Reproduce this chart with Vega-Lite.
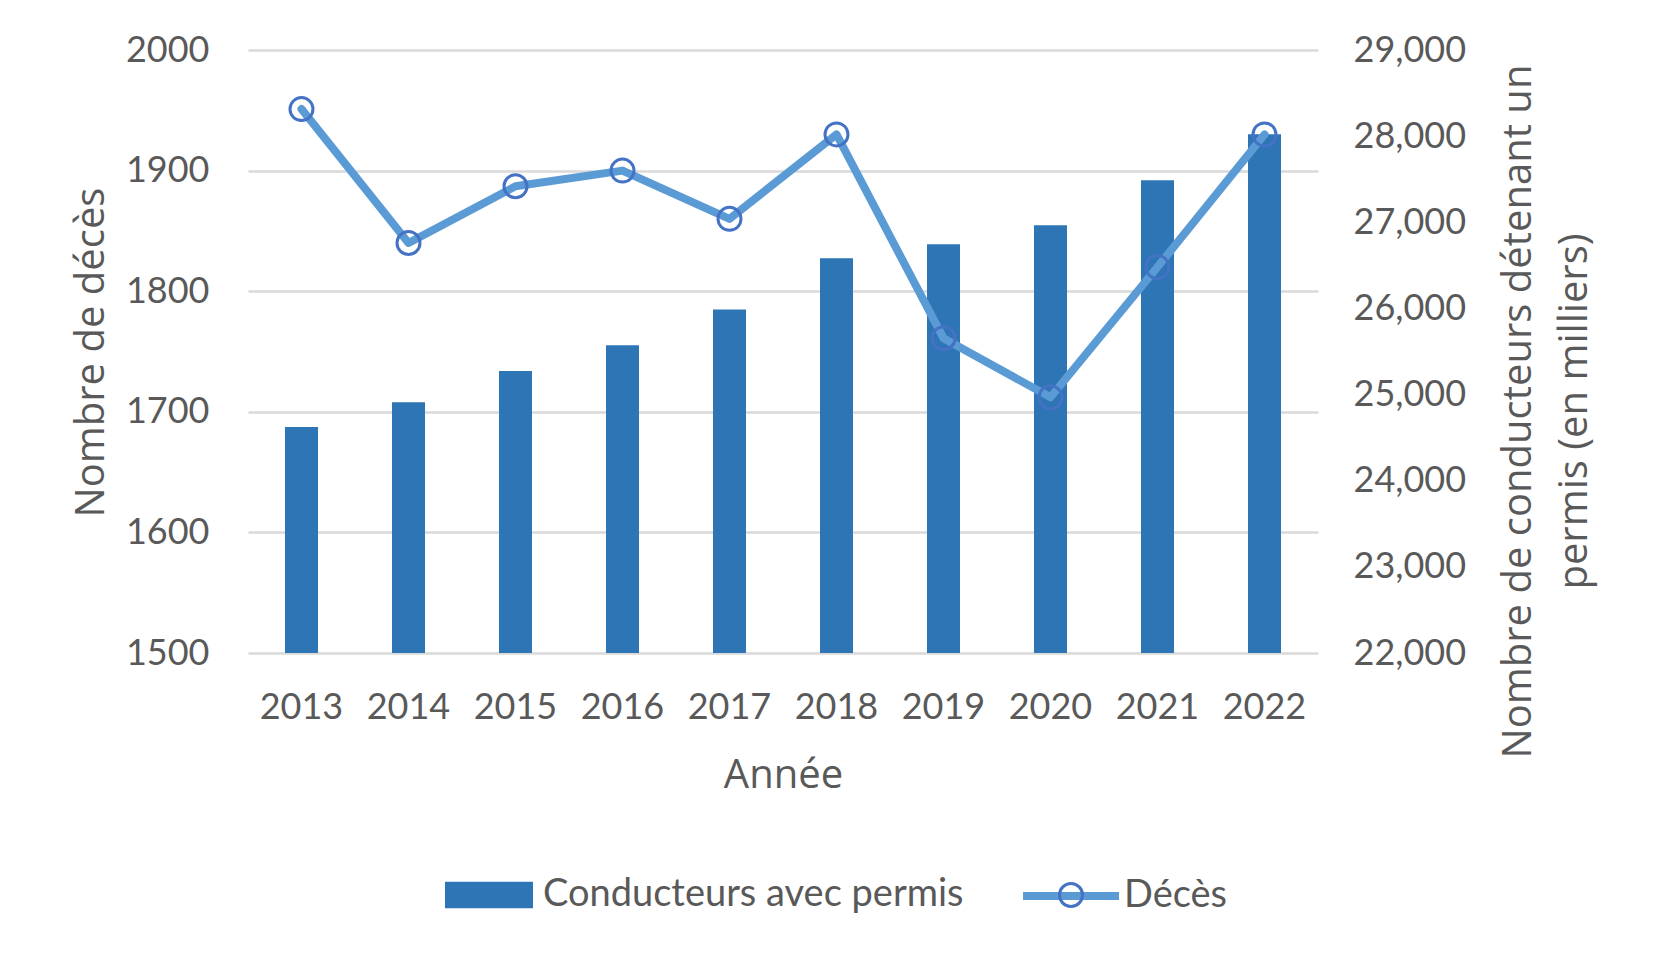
{
  "$schema": "https://vega.github.io/schema/vega-lite/v6.json",
  "autosize": "none",
  "width": 1070,
  "height": 603,
  "padding": {"left": 248, "top": 50, "right": 336, "bottom": 308},
  "background": "white",
  "data": {
    "values": [
      {"annee": "2013", "conducteurs": 24624, "deces": 1951},
      {"annee": "2014", "conducteurs": 24911, "deces": 1840},
      {"annee": "2015", "conducteurs": 25274, "deces": 1887},
      {"annee": "2016", "conducteurs": 25572, "deces": 1900},
      {"annee": "2017", "conducteurs": 25987, "deces": 1860},
      {"annee": "2018", "conducteurs": 26583, "deces": 1930},
      {"annee": "2019", "conducteurs": 26745, "deces": 1761},
      {"annee": "2020", "conducteurs": 26966, "deces": 1712},
      {"annee": "2021", "conducteurs": 27488, "deces": 1820},
      {"annee": "2022", "conducteurs": 28022, "deces": 1930}
    ]
  },
  "encoding": {
    "x": {
      "field": "annee",
      "type": "ordinal",
      "title": "Année",
      "scale": {"paddingInner": 0, "paddingOuter": 0},
      "axis": {
        "labelAngle": 0,
        "domain": false,
        "ticks": false,
        "labelFont": "Lato",
        "labelFontSize": 36,
        "labelColor": "#595959",
        "labelBaseline": "alphabetic",
        "labelPadding": 65,
        "titleFont": "Open Sans",
        "titleFontSize": 40,
        "titleFontWeight": "normal",
        "titleColor": "#595959",
        "titleBaseline": "alphabetic",
        "titleY": 134
      }
    }
  },
  "layer": [
    {
      "mark": {"type": "bar", "size": 33},
      "encoding": {
        "y": {
          "field": "conducteurs",
          "type": "quantitative",
          "title": ["Nombre de conducteurs détenant un", "permis (en milliers)"],
          "scale": {"domain": [22000, 29000], "nice": false, "zero": false},
          "axis": {
            "orient": "right",
            "values": [22000, 23000, 24000, 25000, 26000, 27000, 28000, 29000],
            "format": ",.0f",
            "grid": false,
            "domain": false,
            "ticks": false,
            "labelFont": "Lato",
            "labelFontSize": 36,
            "labelColor": "#595959",
            "labelPadding": 35,
            "titleFont": "Open Sans",
            "titleFontSize": 40,
            "titleFontWeight": "normal",
            "titleColor": "#595959",
            "titleAngle": 270,
            "titleAlign": "center",
            "titleBaseline": "alphabetic",
            "titleLineHeight": 56,
            "titleX": 212,
            "titleY": 361
          }
        },
        "y2": {"datum": 22000},
        "color": {
          "datum": "Conducteurs avec permis",
          "scale": {"range": ["#2E75B6"]},
          "legend": {
            "orient": "none",
            "legendX": 197,
            "legendY": 801,
            "title": null,
            "padding": 0,
            "symbolType": "M-1,-0.3H1V0.3H-1Z",
            "symbolSize": 7744,
            "symbolStrokeWidth": 0,
            "labelFont": "Lato",
            "labelFontSize": 38,
            "labelColor": "#595959",
            "labelOffset": 10,
            "labelLimit": 1000
          }
        }
      }
    },
    {
      "encoding": {
        "y": {
          "field": "deces",
          "type": "quantitative",
          "title": "Nombre de décès",
          "scale": {"domain": [1500, 2000], "nice": false, "zero": false},
          "axis": {
            "orient": "left",
            "values": [1500, 1600, 1700, 1800, 1900, 2000],
            "format": "d",
            "grid": true,
            "gridColor": "#D9D9D9",
            "gridWidth": 2.5,
            "domain": false,
            "ticks": false,
            "labelFont": "Lato",
            "labelFontSize": 36,
            "labelColor": "#595959",
            "labelPadding": 39,
            "titleFont": "Open Sans",
            "titleFontSize": 40,
            "titleFontWeight": "normal",
            "titleColor": "#595959",
            "titleAngle": 270,
            "titleAlign": "center",
            "titleBaseline": "alphabetic",
            "titleX": -145,
            "titleY": 302
          }
        }
      },
      "layer": [
        {
          "mark": {"type": "line", "strokeWidth": 8, "strokeJoin": "round", "strokeCap": "round"},
          "encoding": {
            "stroke": {
              "datum": "Décès",
              "scale": {"range": ["#5B9BD5"]},
              "legend": {
                "orient": "none",
                "legendX": 771,
                "legendY": 794,
                "title": null,
                "padding": 0,
                "symbolType": "M-1,0H1",
                "symbolSize": 9216,
                "symbolStrokeWidth": 8,
                "labelFont": "Lato",
                "labelFontSize": 38,
                "labelColor": "#595959",
                "labelOffset": 1,
                "labelLimit": 1000
              }
            }
          }
        },
        {
          "mark": {"type": "point", "filled": false, "stroke": "#4472C4", "strokeWidth": 3, "size": 529, "opacity": 1},
          "encoding": {
            "shape": {
              "datum": "o",
              "scale": {"range": ["circle"]},
              "legend": {
                "orient": "none",
                "legendX": 810,
                "legendY": 832,
                "title": null,
                "padding": 0,
                "symbolSize": 529,
                "symbolStrokeColor": "#4472C4",
                "symbolStrokeWidth": 3,
                "symbolFillColor": "transparent",
                "labelExpr": "''",
                "labelFontSize": 1
              }
            }
          }
        }
      ]
    }
  ],
  "resolve": {"scale": {"y": "independent"}},
  "config": {"view": {"stroke": null}}
}
